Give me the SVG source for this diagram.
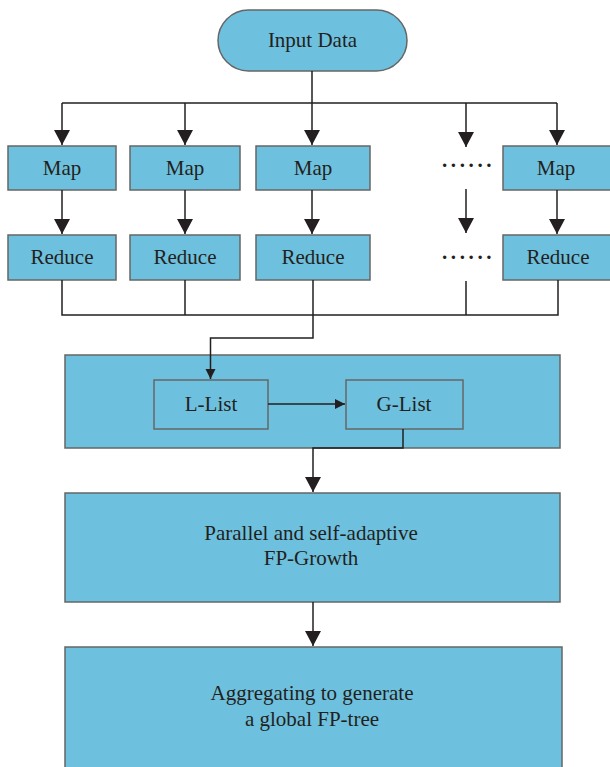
<svg xmlns="http://www.w3.org/2000/svg" width="610" height="767" viewBox="0 0 610 767">
<style>
.box{fill:#6ec1de;stroke:#666;stroke-width:1.5}
.lbl{font-family:"Liberation Serif",serif;font-size:21px;fill:#231f20;text-anchor:middle}
.ln{fill:none;stroke:#231f20;stroke-width:1.5}
.big{marker-end:url(#ah)}
.sm{marker-end:url(#as)}
.dots{font-family:"Liberation Serif",serif;font-size:21px;font-weight:bold;fill:#231f20;letter-spacing:3.6px}
</style>
<defs>
<marker id="ah" markerUnits="userSpaceOnUse" markerWidth="16" markerHeight="16" refX="15" refY="8" orient="auto"><path d="M0,0 L15,8 L0,16 z" fill="#231f20"/></marker>
<marker id="as" markerUnits="userSpaceOnUse" markerWidth="11" markerHeight="11" refX="10" refY="5" orient="auto"><path d="M0,0 L10,5 L0,10 z" fill="#231f20"/></marker>
</defs>
<rect width="610" height="767" fill="#fff"/>
<g id="input"><rect class="box" x="218" y="10" width="189" height="61" rx="30.5"/><text class="lbl" x="312.5" y="47">Input Data</text></g>
<g id="map1"><rect class="box" x="8" y="146" width="108" height="44"/><text class="lbl" x="62" y="175">Map</text></g>
<g id="map2"><rect class="box" x="130" y="146" width="110" height="44"/><text class="lbl" x="185" y="175">Map</text></g>
<g id="map3"><rect class="box" x="256" y="146" width="114" height="44"/><text class="lbl" x="313" y="175">Map</text></g>
<g id="map5"><rect class="box" x="503" y="146" width="112" height="44"/><text class="lbl" x="556" y="175">Map</text></g>
<g id="reduce1"><rect class="box" x="8" y="235" width="108" height="45"/><text class="lbl" x="62" y="264">Reduce</text></g>
<g id="reduce2"><rect class="box" x="130" y="235" width="110" height="45"/><text class="lbl" x="185" y="264">Reduce</text></g>
<g id="reduce3"><rect class="box" x="256" y="235" width="114" height="45"/><text class="lbl" x="313" y="264">Reduce</text></g>
<g id="reduce5"><rect class="box" x="503" y="235" width="112" height="45"/><text class="lbl" x="558" y="264">Reduce</text></g>
<g id="dots1"><text class="dots" x="442" y="167">......</text></g>
<g id="dots2"><text class="dots" x="442" y="259">......</text></g>
<g id="lists"><rect class="box" x="65" y="355" width="495" height="93"/></g>
<g id="llist"><rect class="box" x="154" y="380" width="114" height="49"/><text class="lbl" x="211" y="411">L-List</text></g>
<g id="glist"><rect class="box" x="346" y="380" width="117" height="49"/><text class="lbl" x="404" y="411">G-List</text></g>
<g id="fpgrowth"><rect class="box" x="65" y="493" width="495" height="109"/><text class="lbl" x="311" y="540">Parallel and self-adaptive</text><text class="lbl" x="311" y="565">FP-Growth</text></g>
<g id="aggregate"><rect class="box" x="65" y="647" width="497" height="130"/><text class="lbl" x="312" y="700">Aggregating to generate</text><text class="lbl" x="312" y="726">a global FP-tree</text></g>
<g id="connectors">
<path class="ln" d="M312,71 V103 M62,103 H557"/>
<path class="ln big" d="M62,103 V145"/>
<path class="ln big" d="M185,103 V145"/>
<path class="ln big" d="M312,103 V145"/>
<path class="ln big" d="M466,103 V147"/>
<path class="ln big" d="M557,103 V145"/>
<path class="ln big" d="M62,190 V234"/>
<path class="ln big" d="M185,190 V234"/>
<path class="ln big" d="M312,190 V234"/>
<path class="ln big" d="M466,189 V233"/>
<path class="ln big" d="M557,190 V234"/>
<path class="ln" d="M62,280 V315 H558 V280 M185,280 V315 M466,281 V315"/>
<path class="ln sm" d="M313,280 V338 H210.5 V379"/>
<path class="ln sm" d="M268,404 H345"/>
<path class="ln big" d="M403,429 V448 H313 V492"/>
<path class="ln big" d="M313,602 V646"/>
</g>
</svg>
